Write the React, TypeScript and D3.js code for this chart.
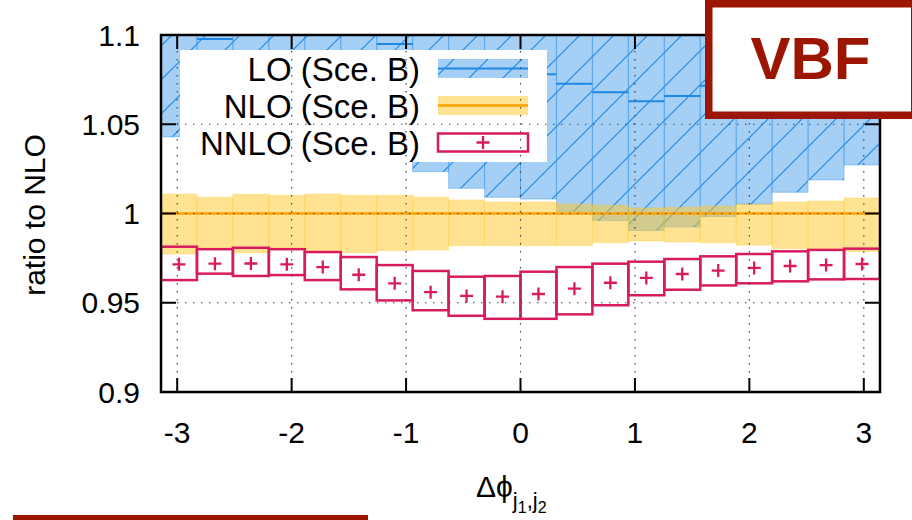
import React from "react";
import * as d3 from "d3";

// ---- data (ratio to NLO, 20 bins in Δφ over [-π, π]) ----
const loCentral = [1.102, 1.0978, 1.09, 1.088, 1.087, 1.089, 1.095, 1.088, 1.084, 1.08, 1.078, 1.0727, 1.0679, 1.0629, 1.0658, 1.0716, 1.078, 1.083, 1.087, 1.09];
const loLow = [1.0429, 1.045, 1.045, 1.042, 1.038, 1.034, 1.032, 1.0234, 1.0141, 1.0091, 1.0081, 1.001, 0.996, 0.9904, 0.9924, 0.9982, 1.0052, 1.0119, 1.0188, 1.0272];
const loHigh = [1.16, 1.16, 1.16, 1.16, 1.16, 1.16, 1.16, 1.16, 1.16, 1.16, 1.16, 1.16, 1.16, 1.16, 1.16, 1.16, 1.16, 1.16, 1.16, 1.16];

const nloCentral = [1, 1, 1, 1, 1, 1, 1, 1, 1, 1, 1, 1, 1, 1, 1, 1, 1, 1, 1, 1];
const nloHigh = [1.0109, 1.0091, 1.0108, 1.0102, 1.0109, 1.0102, 1.0102, 1.0091, 1.0076, 1.0064, 1.0064, 1.0053, 1.0046, 1.0031, 1.0035, 1.0042, 1.0052, 1.0064, 1.007, 1.0087];
const nloLow = [0.9773, 0.9807, 0.978, 0.9807, 0.9792, 0.978, 0.9792, 0.9796, 0.982, 0.982, 0.982, 0.982, 0.9836, 0.9846, 0.984, 0.9836, 0.9822, 0.9803, 0.9799, 0.9786];

const nnloCentral = [0.9715, 0.9719, 0.972, 0.9715, 0.97, 0.9657, 0.9609, 0.9559, 0.9538, 0.9534, 0.9549, 0.9579, 0.9612, 0.9639, 0.9661, 0.968, 0.9695, 0.9706, 0.9711, 0.9717];
const nnloLow = [0.9627, 0.9663, 0.965, 0.9655, 0.9627, 0.9575, 0.9513, 0.9458, 0.9427, 0.941, 0.941, 0.9435, 0.9486, 0.9542, 0.9573, 0.9597, 0.9609, 0.962, 0.9631, 0.9633];
const nnloHigh = [0.9814, 0.98, 0.9808, 0.98, 0.9784, 0.9756, 0.9711, 0.9678, 0.9646, 0.965, 0.9674, 0.97, 0.9719, 0.973, 0.9745, 0.976, 0.9773, 0.9788, 0.9796, 0.9803];

const xTicks = [-3, -2, -1, 0, 1, 2, 3];
const yTicks = [0.9, 0.95, 1, 1.05, 1.1];
const yTickLabels = ["0.9", "0.95", "1", "1.05", "1.1"];
const legendLabels = ["LO (Sce. B)", "NLO (Sce. B)", "NNLO (Sce. B)"];

const FONT = "'Liberation Sans', Arial, Helvetica, sans-serif";
const BLUE = "#1e88e5";
const YEL = "#ffc828";
const ORANGE = "#ffa000";
const PINK = "#d81b60";
const RED = "#9b1500";

export default function App() {
  const left = 161, right = 880, top = 35, bottom = 392;
  const x = d3.scaleLinear().domain([-Math.PI, Math.PI]).range([left, right]);
  const y = d3.scaleLinear().domain([0.9, 1.1]).range([bottom, top]);
  const nb = loCentral.length;
  const edges = d3.range(nb + 1).map((i) => -Math.PI + (i * 2 * Math.PI) / nb);
  const bins = d3.range(nb).map((i) => ({ x0: x(edges[i]), x1: x(edges[i + 1]) }));

  const lg = { x0: 180, x1: 547, y0: 50, y1: 162 };
  const keyX0 = 438, keyX1 = 528;
  const rows = [68.5, 105.5, 142.5];

  return (
    <svg width={912} height={520} style={{ position: "absolute", left: 0, top: 0, background: "#fff" }} fontFamily={FONT}>
      <defs>
        <clipPath id="plotclip">
          <rect x={left} y={top} width={right - left} height={bottom - top} />
        </clipPath>
        <pattern id="hatch" patternUnits="userSpaceOnUse" width={34} height={34} x={0} y={3}>
          <path d="M0,34 L34,0 M-4,4 L4,-4 M30,38 L38,30" stroke={BLUE} strokeWidth={1.2} />
        </pattern>
      </defs>

      <g clipPath="url(#plotclip)">
        {/* LO band */}
        {bins.map((b, i) => (
          <g key={"lo" + i}>
            <rect x={b.x0} y={y(loHigh[i])} width={b.x1 - b.x0} height={y(loLow[i]) - y(loHigh[i])}
              fill={BLUE} fillOpacity={0.4} stroke={BLUE} strokeOpacity={0.35} strokeWidth={1} />
            <rect x={b.x0} y={y(loHigh[i])} width={b.x1 - b.x0} height={y(loLow[i]) - y(loHigh[i])} fill="url(#hatch)" />
            <line x1={b.x0} x2={b.x1} y1={y(loCentral[i])} y2={y(loCentral[i])} stroke={BLUE} strokeWidth={2} />
          </g>
        ))}
        {/* NLO band */}
        {bins.map((b, i) => (
          <rect key={"nlo" + i} x={b.x0} y={y(nloHigh[i])} width={b.x1 - b.x0} height={y(nloLow[i]) - y(nloHigh[i])}
            fill={YEL} fillOpacity={0.5} stroke={YEL} strokeOpacity={0.3} strokeWidth={1} />
        ))}
        {bins.map((b, i) => (
          <line key={"nloc" + i} x1={b.x0} x2={b.x1} y1={y(nloCentral[i])} y2={y(nloCentral[i])} stroke={ORANGE} strokeWidth={2.5} />
        ))}
        {/* NNLO boxes */}
        {bins.map((b, i) => {
          const cx = (b.x0 + b.x1) / 2, cy = y(nnloCentral[i]);
          return (
            <g key={"nnlo" + i}>
              <rect x={b.x0} y={y(nnloHigh[i])} width={b.x1 - b.x0} height={y(nnloLow[i]) - y(nnloHigh[i])}
                fill="none" stroke={PINK} strokeWidth={2.5} />
              <path d={`M${cx - 6.5},${cy} H${cx + 6.5} M${cx},${cy - 6.5} V${cy + 6.5}`} stroke={PINK} strokeWidth={2.3} />
            </g>
          );
        })}
      </g>

      {/* Legend */}
      <rect x={lg.x0} y={lg.y0} width={lg.x1 - lg.x0} height={lg.y1 - lg.y0} fill="#fff" />
      {legendLabels.map((t, i) => (
        <text key={"lt" + i} x={420} y={rows[i] + 12} textAnchor="end" fontSize={33} fill="#000">{t}</text>
      ))}
      <rect x={keyX0} y={rows[0] - 9.5} width={keyX1 - keyX0} height={19} fill={BLUE} fillOpacity={0.4} />
      <rect x={keyX0} y={rows[0] - 9.5} width={keyX1 - keyX0} height={19} fill="url(#hatch)" />
      <line x1={keyX0} x2={keyX1} y1={rows[0]} y2={rows[0]} stroke={BLUE} strokeWidth={2} />
      <rect x={keyX0} y={rows[1] - 9.5} width={keyX1 - keyX0} height={19} fill={YEL} fillOpacity={0.5} />
      <line x1={keyX0} x2={keyX1} y1={rows[1]} y2={rows[1]} stroke={ORANGE} strokeWidth={2.5} />
      <rect x={keyX0} y={rows[2] - 9} width={keyX1 - keyX0} height={18} fill="none" stroke={PINK} strokeWidth={2.5} />
      <path d={`M${(keyX0 + keyX1) / 2 - 6.5},${rows[2]} h13 M${(keyX0 + keyX1) / 2},${rows[2] - 6.5} v13`} stroke={PINK} strokeWidth={2.3} />

      {/* Grid (front) */}
      <g stroke="#444" strokeWidth={1.2} strokeDasharray="1.5,6.5">
        {xTicks.map((t) => (
          <line key={"gx" + t} x1={x(t)} x2={x(t)} y1={top} y2={bottom} />
        ))}
        {yTicks.slice(1, -1).map((t) => (
          <line key={"gy" + t} x1={left} x2={right} y1={y(t)} y2={y(t)} />
        ))}
      </g>

      {/* Ticks */}
      <g stroke="#000" strokeWidth={2}>
        {xTicks.map((t) => (
          <g key={"tx" + t}>
            <line x1={x(t)} x2={x(t)} y1={bottom} y2={bottom - 14} />
            <line x1={x(t)} x2={x(t)} y1={top} y2={top + 14} />
          </g>
        ))}
        {yTicks.map((t) => (
          <g key={"ty" + t}>
            <line x1={left} x2={left + 15} y1={y(t)} y2={y(t)} />
            <line x1={right} x2={right - 15} y1={y(t)} y2={y(t)} />
          </g>
        ))}
      </g>
      <rect x={left} y={top} width={right - left} height={bottom - top} fill="none" stroke="#000" strokeWidth={2.5} />

      {/* Tick labels */}
      {yTicks.map((t, i) => (
        <text key={"yl" + t} x={140} y={y(t) + 10.5} textAnchor="end" fontSize={30} fill="#000">{yTickLabels[i]}</text>
      ))}
      {xTicks.map((t) => (
        <text key={"xl" + t} x={x(t)} y={443} textAnchor="middle" fontSize={30} fill="#000">{String(t)}</text>
      ))}

      {/* Axis labels */}
      <text x={45} y={215} transform="rotate(-90 45 215)" textAnchor="middle" fontSize={30} fill="#000">ratio to NLO</text>
      <text x={476} y={497} fontSize={30} fill="#000">
        Δϕ
        <tspan fontSize={22} y={508}>j</tspan>
        <tspan fontSize={16} y={513}>1</tspan>
        <tspan fontSize={22} y={508}>,j</tspan>
        <tspan fontSize={16} y={513}>2</tspan>
      </text>

      {/* VBF label box */}
      <rect x={708.75} y={3.75} width={206} height={111.5} fill="#fff" stroke={RED} strokeWidth={7.5} />
      <text x={810.5} y={79} textAnchor="middle" fontSize={60} fontWeight="bold" fill={RED}>VBF</text>

      {/* bottom-left bar */}
      <rect x={13} y={515} width={355} height={5} fill={RED} />
    </svg>
  );
}
